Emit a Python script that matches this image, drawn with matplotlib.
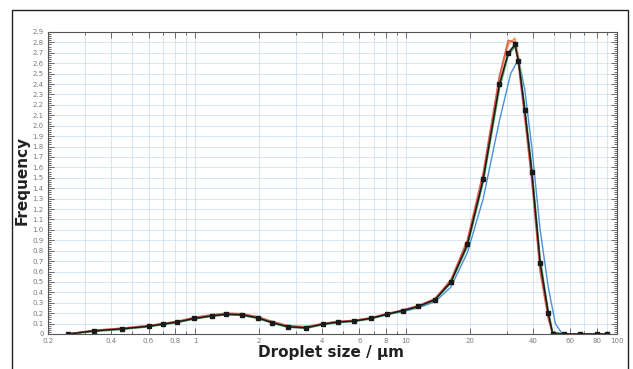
import matplotlib
matplotlib.use('Agg')
import matplotlib.pyplot as plt
from matplotlib.lines import Line2D
from matplotlib.ticker import FixedLocator, MultipleLocator, NullFormatter

# droplet size (um) at the measured points
size_um = [0.25, 0.33, 0.45, 0.60, 0.70, 0.82, 0.99, 1.20, 1.40, 1.66, 1.98,
           2.31, 2.75, 3.35, 4.03, 4.75, 5.66, 6.79, 8.08, 9.64, 11.4, 13.7,
           16.3, 19.5, 23.2, 27.7, 30.5, 32.8, 34.1, 36.5, 39.4, 43.2, 47.2,
           49.5, 56, 67, 80, 90]

freq_black = [0.0, 0.03, 0.05, 0.075, 0.095, 0.115, 0.15, 0.175, 0.19, 0.185,
              0.155, 0.11, 0.07, 0.06, 0.095, 0.115, 0.125, 0.15, 0.19, 0.225,
              0.265, 0.33, 0.50, 0.86, 1.49, 2.40, 2.70, 2.78, 2.62, 2.15,
              1.56, 0.68, 0.20, 0.0, 0.0, 0.0, 0.0, 0.0]
freq_red = [0.0, 0.035, 0.055, 0.08, 0.10, 0.12, 0.16, 0.185, 0.20, 0.195,
            0.165, 0.12, 0.08, 0.07, 0.10, 0.12, 0.13, 0.155, 0.195, 0.23,
            0.27, 0.34, 0.52, 0.90, 1.55, 2.48, 2.82, 2.80, 2.58, 2.08,
            1.48, 0.60, 0.15, 0.0, 0.0, 0.0, 0.0, 0.0]
freq_green = [0.0, 0.025, 0.045, 0.07, 0.09, 0.11, 0.145, 0.17, 0.185, 0.18,
              0.15, 0.105, 0.065, 0.055, 0.09, 0.11, 0.12, 0.145, 0.185, 0.22,
              0.26, 0.325, 0.49, 0.84, 1.46, 2.36, 2.68, 2.76, 2.64, 2.18,
              1.60, 0.72, 0.22, 0.02, 0.0, 0.0, 0.0, 0.0]
freq_orange = [0.0, 0.035, 0.055, 0.08, 0.10, 0.12, 0.155, 0.18, 0.195, 0.19,
               0.16, 0.115, 0.075, 0.065, 0.10, 0.12, 0.13, 0.155, 0.19, 0.23,
               0.27, 0.335, 0.51, 0.88, 1.52, 2.45, 2.78, 2.84, 2.66, 2.12,
               1.52, 0.64, 0.18, 0.0, 0.0, 0.0, 0.0, 0.0]

# the one run that is shifted to larger sizes
size_blue = [0.25, 0.33, 0.45, 0.60, 0.70, 0.82, 0.99, 1.20, 1.40, 1.66, 1.98,
             2.31, 2.75, 3.35, 4.03, 4.75, 5.66, 6.79, 8.08, 9.64, 11.4, 13.7,
             16.3, 19.5, 23.2, 27.7, 31.3, 34.1, 36.5, 39.4, 43.2, 47.2, 51,
             55, 67, 80, 90]
freq_blue = [0.0, 0.03, 0.05, 0.075, 0.095, 0.115, 0.15, 0.175, 0.19, 0.185,
             0.155, 0.11, 0.07, 0.06, 0.095, 0.115, 0.125, 0.15, 0.185, 0.215,
             0.25, 0.31, 0.45, 0.78, 1.30, 2.05, 2.50, 2.64, 2.35, 1.80,
             1.00, 0.45, 0.10, 0.0, 0.0, 0.0, 0.0]

x_ticks = [0.2, 0.4, 0.6, 0.8, 1, 2, 4, 6, 8, 10, 20, 40, 60, 80, 100]
x_ticklabels = ['0.2', '0.4', '0.6', '0.8', '1', '2', '4', '6', '8', '10',
                '20', '40', '60', '80', '100']
x_grid = [0.3, 0.5, 0.7, 0.9, 3, 5, 7, 9, 30, 50, 70, 90]
y_ticks = [i / 10 for i in range(30)]

fig = plt.figure(figsize=(6.33, 3.69), dpi=100)
ax = fig.add_axes([48 / 633, 1 - 334 / 369, 569 / 633, 302 / 369])

ax.plot(size_blue, freq_blue, color='#4a90d9', lw=1.0)
ax.plot(size_um, freq_orange, color='#e8a060', lw=1.2)
ax.plot(size_um, freq_green, color='#4a9a5a', lw=1.2)
ax.plot(size_um, freq_red, color='#e0604c', lw=1.2)
ax.plot(size_um, freq_black, color='#1a1a1a', lw=1.1, marker='s', ms=2.3)

ax.set_xscale('log')
ax.set_xlim(0.2, 100)
ax.set_ylim(0, 2.9)

ax.xaxis.set_major_locator(FixedLocator(x_ticks))
ax.set_xticklabels(x_ticklabels)
ax.xaxis.set_minor_locator(FixedLocator(x_grid))
ax.xaxis.set_minor_formatter(NullFormatter())
ax.yaxis.set_major_locator(FixedLocator(y_ticks))
ax.set_yticklabels(['0'] + ['%.1f' % v for v in y_ticks[1:]])
ax.yaxis.set_minor_locator(MultipleLocator(0.02))

ax.grid(which='both', axis='x', color='#cfe2f1', lw=0.6)
ax.grid(which='major', axis='y', color='#cfe2f1', lw=0.6)
ax.set_axisbelow(True)

ax.tick_params(which='both', direction='in', top=True, right=True,
               color='#555555', width=0.6)
ax.tick_params(which='major', length=4, labelsize=5, labelcolor='#7a7a7a',
               pad=3)
ax.tick_params(which='minor', length=2)
for s in ax.spines.values():
    s.set_color('#555555')
    s.set_linewidth(0.8)

fig.text(22 / 633, 1 - 180 / 369, 'Frequency', rotation=90, ha='center',
         va='center', fontsize=11, fontweight='bold', color='#222222')
fig.text(331 / 633, 1 - 353 / 369, 'Droplet size / \u00b5m', ha='center',
         va='center', fontsize=11, fontweight='bold', color='#222222')

# outer frame (open at the bottom)
fx = [12 / 633, 12 / 633, 628 / 633, 628 / 633]
fy = [0, 1 - 10 / 369, 1 - 10 / 369, 0]
fig.add_artist(Line2D(fx, fy, color='#222222', lw=1.0))

fig.savefig('out.png', dpi=100)
